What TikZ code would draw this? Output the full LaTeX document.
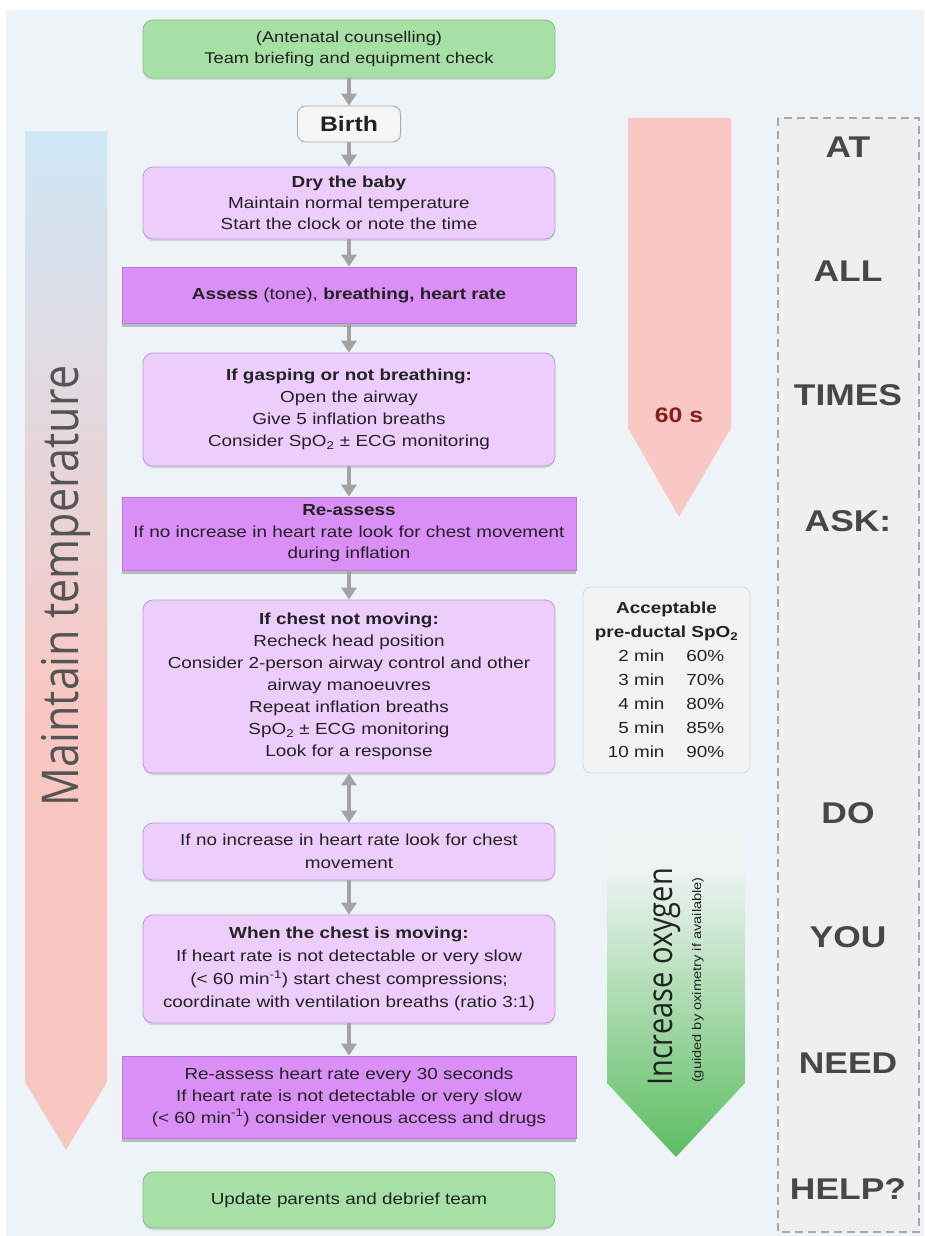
\documentclass[tikz,border=0pt]{standalone}
\usepackage{fontspec}
\setmainfont{Liberation Sans}[FakeStretch=1.18]
\newfontfamily\opensans{Open Sans}
\usetikzlibrary{arrows.meta,shadows}
\definecolor{bg}{HTML}{EDF3F7}
\definecolor{txt}{HTML}{222222}
\definecolor{gfill}{HTML}{A6E0A4}
\definecolor{gdraw}{HTML}{86C383}
\definecolor{lpfill}{HTML}{EDCDFB}
\definecolor{lpdraw}{HTML}{C19BDC}
\definecolor{dpfill}{HTML}{D98FF5}
\definecolor{dpdraw}{HTML}{B57BD8}
\definecolor{bfill}{HTML}{F6F6F6}
\definecolor{bdraw}{HTML}{A6A6A6}
\definecolor{agray}{HTML}{A3A3A3}
\definecolor{lblue}{HTML}{CFE8F6}
\definecolor{lpink}{HTML}{F9C7C2}
\definecolor{redarr}{HTML}{FAC8C4}
\definecolor{darkred}{HTML}{8B1C1C}
\definecolor{gpale}{HTML}{EDF4F2}
\definecolor{ggreen}{HTML}{5BBD5F}
\definecolor{spofill}{HTML}{F3F3F3}
\definecolor{spodraw}{HTML}{D5D9DC}
\definecolor{dashfill}{HTML}{EFEFEF}
\definecolor{dashdraw}{HTML}{A8A8A8}
\definecolor{asktxt}{HTML}{474747}
\definecolor{mttxt}{HTML}{555555}
\newcommand\sporow[2]{\makebox[62pt][r]{#1}\hspace{22pt}\makebox[44pt][l]{#2}}
\begin{document}
\begin{tikzpicture}[x=1pt,y=-1pt,
  flowbox/.style={rounded corners=10pt, minimum width=412pt, text width=404pt,
    align=center, inner sep=0pt, text=txt, font=\fontsize{16}{22}\selectfont},
  lightbox/.style={flowbox, fill=lpfill, draw=lpdraw, line width=0.8pt,
    drop shadow={shadow xshift=0pt, shadow yshift=-2pt, opacity=.25, fill=black!50}},
  greenbox/.style={flowbox, fill=gfill, draw=gdraw, line width=0.8pt,
    drop shadow={shadow xshift=0pt, shadow yshift=-2pt, opacity=.25, fill=black!50}},
  darkbox/.style={flowbox, rounded corners=0pt, minimum width=454pt, text width=446pt,
    fill=dpfill, draw=dpdraw, line width=0.8pt,
    drop shadow={shadow xshift=0pt, shadow yshift=-4pt, opacity=.4, fill=black!60}},
  birthbox/.style={rounded corners=8pt, minimum width=103pt, minimum height=36pt,
    inner sep=0pt, fill=bfill, draw=bdraw, line width=0.8pt, text=txt,
    font=\bfseries\fontsize{21}{21}\selectfont},
  flowarrow/.style={draw=agray, line width=4pt, -{Triangle[width=15pt,length=12pt]}},
  flowboth/.style={draw=agray, line width=4pt, {Triangle[width=15pt,length=12pt]}-{Triangle[width=15pt,length=12pt]}},
  askword/.style={text=asktxt, font=\bfseries\fontsize{30}{30}\selectfont},
  spobox/.style={rounded corners=8pt, fill=spofill, draw=spodraw, line width=0.8pt,
    minimum width=167pt, minimum height=186pt, text width=160pt, align=center,
    inner sep=0pt, text=txt, font=\fontsize{16}{24}\selectfont}
]
\useasboundingbox (0,0) rectangle (924,1236);
\fill[white] (0,0) rectangle (924,1236);
\fill[bg] (6,10) rectangle (924,1236);

% left arrow: maintain temperature
\fill[lpink] (25,132) -- (107,132) -- (107,1082) -- (66,1150) -- (25,1082) -- cycle;
\shade[top color=lblue, bottom color=lpink] (25,132) rectangle (107,720);
\begin{scope}[shift={(66,586)}, xscale=1.18]
\node[rotate=90, transform shape, text=mttxt, font=\opensans\fontsize{43}{43}\selectfont] (maintain) at (0,0) {Maintain temperature};
\end{scope}

% red 60 s arrow
\fill[redarr] (628,118) -- (731,118) -- (731,428) -- (679,517) -- (628,428) -- cycle;
\node[text=darkred, font=\bfseries\fontsize{21}{21}\selectfont] (sixty) at (679,415) {60 s};

% green oxygen arrow
\begin{scope}
\clip (607,825) -- (745,825) -- (745,1083) -- (676,1157) -- (607,1083) -- cycle;
\fill[gpale] (607,825) rectangle (745,1160);
\shade[top color=gpale, bottom color=ggreen] (607,870) rectangle (745,1160);
\end{scope}
\begin{scope}[shift={(664,977)}, xscale=1.18]
\node[rotate=90, transform shape, text=txt, font=\opensans\fontsize{29}{29}\selectfont] (oxygen) at (0,0) {Increase oxygen};
\end{scope}
\node[rotate=90, text=txt, font=\fontsize{12.4}{12.4}\selectfont] (guided) at (698,980) {(guided by oximetry if available)};

% SpO2 table
\node[spobox] (spo) at (666.5,680) {\textbf{Acceptable}\\\textbf{pre-ductal SpO\textsubscript{2}}\\
  \sporow{2 min}{60\%}\\\sporow{3 min}{70\%}\\\sporow{4 min}{80\%}\\\sporow{5 min}{85\%}\\\sporow{10 min}{90\%}};

% right dashed box
\draw[fill=dashfill, draw=dashdraw, line width=1.3pt, dash pattern=on 8pt off 5pt] (778,118) rectangle (919,1232);
\node[askword] (w1) at (848,147) {AT};
\node[askword] (w2) at (848,271) {ALL};
\node[askword] (w3) at (848,395) {TIMES};
\node[askword] (w4) at (848,521) {ASK:};
\node[askword] (w5) at (848,813) {DO};
\node[askword] (w6) at (848,937) {YOU};
\node[askword] (w7) at (848,1063) {NEED};
\node[askword] (w8) at (848,1189) {HELP?};

% flow
\node[greenbox, minimum height=58pt, font=\fontsize{15.5}{20.5}\selectfont] (brief) at (349,49)
  {(Antenatal counselling)\\Team briefing and equipment check};
\node[birthbox] (birth) at (349,124) {Birth};
\node[lightbox, minimum height=72pt, font=\fontsize{16}{21}\selectfont] (dry) at (349,203)
  {\textbf{Dry the baby}\\Maintain normal temperature\\Start the clock or note the time};
\node[darkbox, minimum height=56pt] (assess) at (349,295)
  {\textbf{Assess} (tone), \textbf{breathing, heart rate}};
\node[lightbox, minimum height=113pt] (gasp) at (349,409.5)
  {\textbf{If gasping or not breathing:}\\Open the airway\\Give 5 inflation breaths\\Consider SpO\textsubscript{2} ± ECG monitoring};
\node[darkbox, minimum height=73pt, font=\fontsize{16}{21.5}\selectfont] (reassess) at (349,533.5)
  {\textbf{Re-assess}\\If no increase in heart rate look for chest movement\\during inflation};
\node[lightbox, minimum height=173pt] (chest) at (349,686.5)
  {\textbf{If chest not moving:}\\Recheck head position\\Consider 2-person airway control and other\\airway manoeuvres\\Repeat inflation breaths\\SpO\textsubscript{2} ± ECG monitoring\\Look for a response};
\node[lightbox, minimum height=57pt, font=\fontsize{16}{23}\selectfont] (noinc) at (349,851.5)
  {If no increase in heart rate look for chest\\movement};
\node[lightbox, minimum height=108pt, font=\fontsize{16}{23}\selectfont] (moving) at (349,969)
  {\textbf{When the chest is moving:}\\If heart rate is not detectable or very slow\\(< 60 min\textsuperscript{-1}) start chest compressions;\\coordinate with ventilation breaths (ratio 3:1)};
\node[darkbox, minimum height=82pt] (rehr) at (349,1097)
  {Re-assess heart rate every 30 seconds\\If heart rate is not detectable or very slow\\(< 60 min\textsuperscript{-1}) consider venous access and drugs};
\node[greenbox, minimum height=56pt] (update) at (349,1200) {Update parents and debrief team};

\draw[flowarrow] (brief) -- (birth);
\draw[flowarrow] (birth) -- (dry);
\draw[flowarrow] (dry) -- (assess);
\draw[flowarrow] (assess) -- (gasp);
\draw[flowarrow] (gasp) -- (reassess);
\draw[flowarrow] (reassess) -- (chest);
\draw[flowboth] (chest) -- (noinc);
\draw[flowarrow] (noinc) -- (moving);
\draw[flowarrow] (moving) -- (rehr);
\end{tikzpicture}
\end{document}
